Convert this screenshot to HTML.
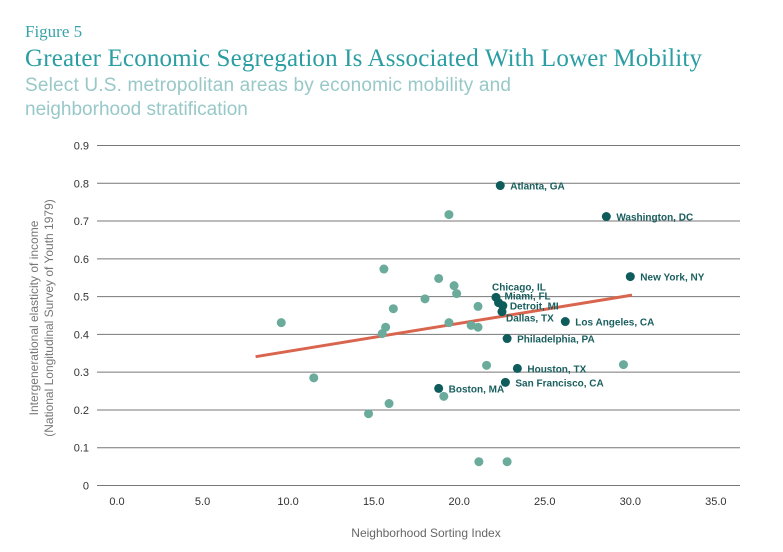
<!DOCTYPE html>
<html><head><meta charset="utf-8"><style>
body{margin:0;background:#fff;width:783px;height:552px;overflow:hidden;font-family:"Liberation Sans",sans-serif}
</style></head><body>
<svg width="783" height="552" style="position:absolute;left:0;top:0">
<text x="25" y="37" font-family="Liberation Serif" font-size="17" fill="#3aa3a8">Figure 5</text>
<text x="25" y="66" font-family="Liberation Serif" font-size="25" fill="#2a9ea3" textLength="677">Greater Economic Segregation Is Associated With Lower Mobility</text>
<text x="25" y="91" font-size="19" fill="#98c8c8" textLength="486">Select U.S. metropolitan areas by economic mobility and</text>
<text x="25" y="115" font-size="19" fill="#98c8c8">neighborhood stratification</text>
<g id="grid"></g><g id="line"></g><g id="pts"></g>
<text transform="translate(38,318) rotate(-90)" text-anchor="middle" font-size="12" fill="#777">Intergenerational elasticity of income</text>
<text transform="translate(53,318) rotate(-90)" text-anchor="middle" font-size="12" fill="#777">(National Longitudinal Survey of Youth 1979)</text>
<text x="426" y="537" text-anchor="middle" font-size="12" fill="#666">Neighborhood Sorting Index</text>
</svg>
<script>
const yTicks=[0,0.1,0.2,0.3,0.4,0.5,0.6,0.7,0.8,0.9];
const yTickLabels=["0","0.1","0.2","0.3","0.4","0.5","0.6","0.7","0.8","0.9"];
const xTicks=[0,5,10,15,20,25,30,35];
const xTickLabels=["0.0","5.0","10.0","15.0","20.0","25.0","30.0","35.0"];
const cityNames=["Atlanta, GA","Washington, DC","New York, NY","Chicago, IL","Miami, FL","Detroit, MI","Dallas, TX","Los Angeles, CA","Philadelphia, PA","Houston, TX","San Francisco, CA","Boston, MA"];
const cityX=[22.4,28.6,30.0,22.15,22.3,22.55,22.5,26.2,22.8,23.4,22.7,18.8];
const cityY=[0.794,0.712,0.553,0.498,0.484,0.476,0.46,0.434,0.389,0.31,0.273,0.257];
const otherX=[9.6,11.5,15.6,18.8,19.7,19.85,18.0,16.15,21.1,19.4,15.7,15.5,20.7,21.1,21.6,29.6,19.4,15.9,19.1,14.7,21.15,22.8];
const otherY=[0.431,0.285,0.573,0.548,0.529,0.508,0.494,0.468,0.474,0.431,0.419,0.402,0.424,0.419,0.318,0.320,0.717,0.217,0.236,0.19,0.063,0.063];
const trendX=[8.1,30.1];
const trendY=[0.341,0.504];
const NS="http://www.w3.org/2000/svg";
const sx=v=>117+v*17.11, sy=v=>485.5-v*377.8;
function mk(t,a,p,txt){const e=document.createElementNS(NS,t);for(const k in a)e.setAttribute(k,a[k]);if(txt!=null)e.textContent=txt;p.appendChild(e);return e;}
const g=document.getElementById('grid');
yTicks.forEach((v,i)=>{
 const l=mk('line',{x1:97,x2:740,y1:sy(v),y2:sy(v),stroke:'#777','stroke-width':1},g);
 
 
 const t=mk('text',{x:89,y:sy(v)+4,'text-anchor':'end','font-size':11,fill:'#333'},g,yTickLabels[i]);
 
 
});
xTicks.forEach((v,i)=>{
 const t=mk('text',{x:sx(v),y:505,'text-anchor':'middle','font-size':11,fill:'#333'},g,xTickLabels[i]);
 
 
});
const tl=mk('line',{x1:sx(trendX[0]),y1:sy(trendY[0]),x2:sx(trendX[1]),y2:sy(trendY[1]),stroke:'#d9654f','stroke-width':3},document.getElementById('line'));


const p=document.getElementById('pts');
otherX.forEach((x,i)=>{
 const c=mk('circle',{cx:sx(x),cy:sy(otherY[i]),r:4.5,fill:'#6aab9c'},p);
 
 
});
const dy={ "Chicago, IL":[-4,-7],"Miami, FL":[6,-3],"Detroit, MI":[7,4],"Dallas, TX":[4,10] };
cityX.forEach((x,i)=>{
 const c=mk('circle',{cx:sx(x),cy:sy(cityY[i]),r:4.5,fill:'#0f5c5c'},p);
 
 
});
cityX.forEach((x,i)=>{
 const o=dy[cityNames[i]]||[10,4];
 const t=mk('text',{x:sx(x)+o[0],y:sy(cityY[i])+o[1],'font-size':10,'font-weight':'bold',fill:'#1a5e5e'},p,cityNames[i]);
 
 
});
</script>
</body></html>
